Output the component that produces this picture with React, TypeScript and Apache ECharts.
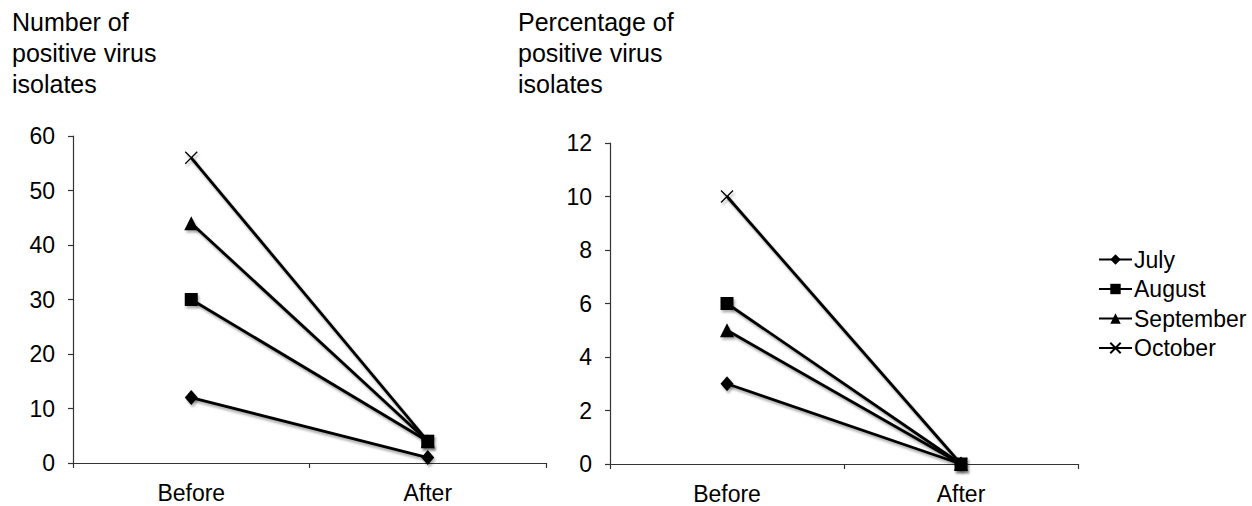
import React, { useEffect, useRef } from "react";
import * as echarts from "echarts";

const categories = ["Before", "After"];
const seriesNames = ["July", "August", "September", "October"];

const countJuly = [12, 1];
const countAugust = [30, 4];
const countSeptember = [44, 4];
const countOctober = [56, 4];

const pctJuly = [3, 0];
const pctAugust = [6, 0];
const pctSeptember = [5, 0];
const pctOctober = [10, 0];

const countTicks = { min: 0, max: 60, interval: 10 };
const pctTicks = { min: 0, max: 12, interval: 2 };

const FONT = "'Liberation Sans', Arial, sans-serif";

const symbols: Record<string, { symbol: string; size: number | number[] }> = {
  July: { symbol: "diamond", size: [13, 15] },
  August: { symbol: "rect", size: 13 },
  September: { symbol: "triangle", size: 14 },
  October: { symbol: "path://M0,0L10,10M10,0L0,10", size: 12 },
};

function makeSeries(name: string, data: number[], axisIndex: number) {
  const s = symbols[name];
  return {
    type: "line",
    name,
    xAxisIndex: axisIndex,
    yAxisIndex: axisIndex,
    data,
    symbol: s.symbol,
    symbolSize: s.size,
    showSymbol: true,
    z: name === "August" ? 5 : 2,
    lineStyle: {
      color: "#000",
      width: 2.8,
      shadowColor: "rgba(0,0,0,0.35)",
      shadowOffsetX: 1.5,
      shadowOffsetY: 2.5,
      shadowBlur: 2,
    },
    itemStyle: {
      color: "#000",
      borderColor: "#000",
      borderWidth: name === "October" ? 1.3 : 0,
      shadowColor: "rgba(0,0,0,0.3)",
      shadowOffsetX: 1.5,
      shadowOffsetY: 2.5,
      shadowBlur: 2,
    },
    emphasis: { disabled: true },
  };
}

export default function App() {
  const ref = useRef<HTMLDivElement>(null);
  useEffect(() => {
    if (!ref.current) return;
    const chart = echarts.init(ref.current, undefined, { renderer: "svg" });
    const axisLine = { show: true, lineStyle: { color: "#333", width: 1.2 } };
    const yAxisBase = {
      type: "value",
      axisLine,
      axisTick: { show: true, inside: false, length: 5, lineStyle: { color: "#333", width: 1.2 } },
      splitLine: { show: false },
      axisLabel: { color: "#000", fontSize: 23, fontFamily: FONT, margin: 18 },
    };
    const xAxisBase = {
      type: "category",
      data: categories,
      boundaryGap: true,
      axisLine,
      axisTick: { show: true, inside: false, length: 5, lineStyle: { color: "#333", width: 1.2 } },
      axisLabel: { color: "#000", fontSize: 23, fontFamily: FONT, margin: 18 },
      splitLine: { show: false },
    };
    chart.setOption({
      animation: false,
      backgroundColor: "#fff",
      title: [
        {
          text: "Number of\npositive virus\nisolates",
          left: 7,
          top: 1,
          textStyle: { color: "#000", fontSize: 25, fontWeight: "normal", fontFamily: FONT, lineHeight: 31 },
        },
        {
          text: "Percentage of\npositive virus\nisolates",
          left: 513,
          top: 1,
          textStyle: { color: "#000", fontSize: 25, fontWeight: "normal", fontFamily: FONT, lineHeight: 31 },
        },
      ],
      legend: {
        orient: "vertical",
        left: 1093,
        top: 243,
        itemWidth: 33,
        itemHeight: 13,
        itemGap: 6.5,
        data: seriesNames,
        textStyle: { color: "#000", fontSize: 23, fontFamily: FONT, padding: [0, 0, 0, -3] },
        selectedMode: false,
      },
      grid: [
        { left: 73, top: 136, width: 473, height: 327 },
        { left: 610, top: 143, width: 468, height: 321 },
      ],
      xAxis: [
        { ...xAxisBase, gridIndex: 0 },
        { ...xAxisBase, gridIndex: 1 },
      ],
      yAxis: [
        { ...yAxisBase, gridIndex: 0, ...countTicks },
        { ...yAxisBase, gridIndex: 1, ...pctTicks },
      ],
      series: [
        makeSeries("July", countJuly, 0),
        makeSeries("August", countAugust, 0),
        makeSeries("September", countSeptember, 0),
        makeSeries("October", countOctober, 0),
        makeSeries("July", pctJuly, 1),
        makeSeries("August", pctAugust, 1),
        makeSeries("September", pctSeptember, 1),
        makeSeries("October", pctOctober, 1),
      ],
    });
    return () => chart.dispose();
  }, []);
  return (
    <div
      ref={ref}
      style={{ position: "absolute", left: 0, top: 0, width: 1252, height: 506 }}
    />
  );
}
